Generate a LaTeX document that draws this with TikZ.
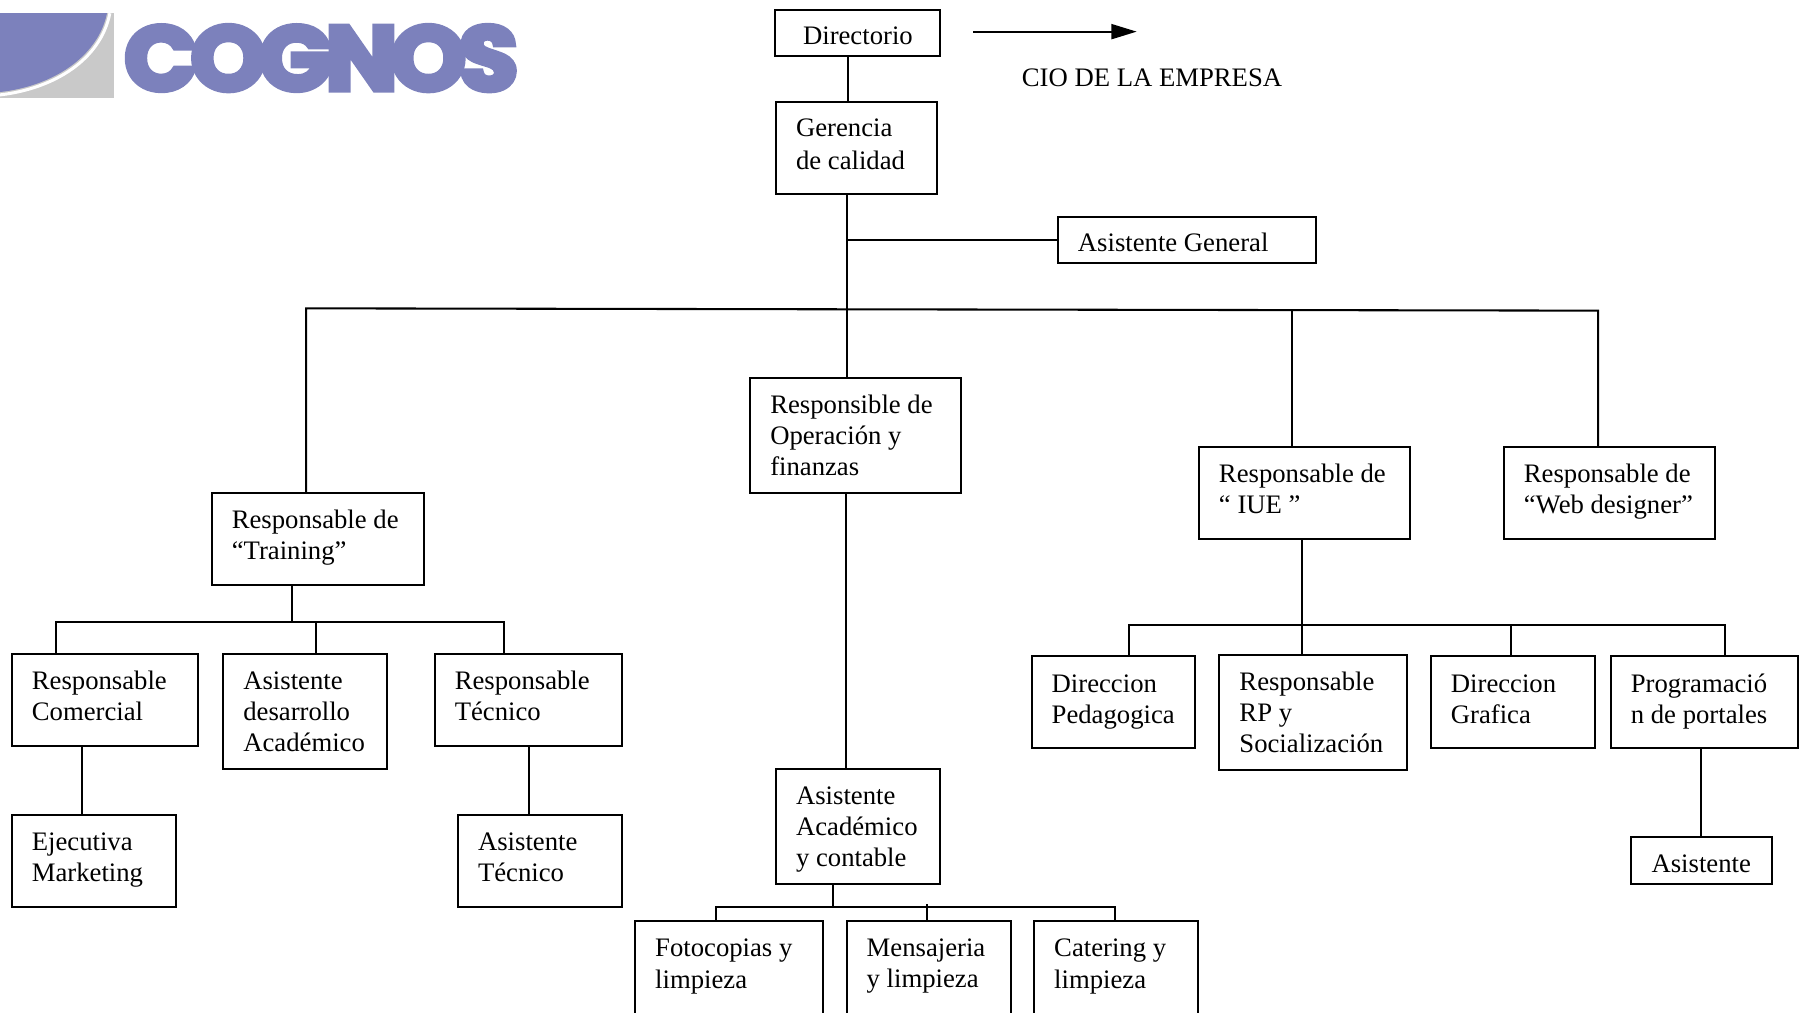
\documentclass[tikz,border=0pt]{standalone}
\usepackage{fontspec}
\usepackage{graphicx}
\setmainfont{Liberation Serif}
\newfontfamily\logofont[FakeBold=6,LetterSpace=-7]{Poppins Bold}
\usetikzlibrary{arrows.meta,calc}
\definecolor{logoblue}{HTML}{7C81BC}
\definecolor{logogray}{HTML}{C9C9C9}
\tikzset{
  wire/.style={line width=1.8pt,black},
  boxst/.style={draw=black,line width=1.8pt,anchor=north west,align=flush left,inner ysep=0pt,outer sep=0pt,
    font=\fontsize{23.2}{27}\selectfont},
  plain/.style={font=\fontsize{23.2}{27}\selectfont,inner sep=0pt,anchor=base west}
}
\def\bxo{30.5}
% \bx[left padding]{name}{x1}{y1}{x2}{y2}{text}
\newcommand{\bx}[6][17.5]{%
  \pgfmathsetmacro{\bxw}{#5-#3}\pgfmathsetmacro{\bxh}{#6-#4}%
  \pgfmathsetmacro{\bxt}{\bxw-2*#1}\pgfmathsetmacro{\bxd}{\bxh-\bxo}%
  \node[boxst,inner xsep=#1pt,text width=\bxt pt,text height=\bxo pt,text depth=\bxd pt] (#2) at (#3,#4) {\BXT};
}
\begin{document}
\begin{tikzpicture}[x=1pt,y=-1pt]
\useasboundingbox (0,0) rectangle (1568,880.4);
% logo
\fill[logogray] (0,11.5) rectangle (98.7,85);
\fill[logoblue] (0,11.5) -- (93,11.5) .. controls (85,50) and (45,75) .. (0,80) -- cycle;
\draw[white,line width=2.6pt] (95.5,11.5) .. controls (87.5,52) and (47,77) .. (0,82.5);
\node[inner sep=0pt,anchor=north west,text=logoblue] (logo) at (108,22) {\resizebox{342pt}{56pt}{\logofont COGNOS}};
% boxes
\def\BXT{Directorio}\bx[24]{dir}{674}{8.5}{817}{48.5}{}
\def\BXT{Gerencia\\[1pt]de calidad}\bx{ger}{674.4}{88.5}{814.4}{168.5}{}
\def\BXT{Asistente General}\bx{ag}{919.4}{188.5}{1144}{228.5}{}
\def\BXT{Responsable de\\“Training”}\bx{tr}{184}{428.5}{368.4}{508.5}{}
\def\BXT{Responsible de\\Operación y\\finanzas}\bx{op}{652}{328.5}{835.4}{428.5}{}
\def\BXT{Responsable de\\“ IUE ”}\bx{iue}{1042}{388.5}{1225.4}{468.5}{}
\def\BXT{Responsable de\\“Web designer”}\bx{web}{1307}{388.5}{1491}{468.5}{}
\def\BXT{Responsable\\Comercial}\bx{com}{10.2}{568.5}{172.4}{648.5}{}
\def\BXT{Asistente\\desarrollo\\Académico}\bx{des}{194}{568.5}{336.4}{668.5}{}
\def\BXT{Responsable\\Técnico}\bx{tec}{377.8}{568.5}{541}{648.5}{}
\def\BXT{Ejecutiva\\Marketing}\bx{eje}{10.2}{708.5}{153}{788.5}{}
\def\BXT{Asistente\\Técnico}\bx{ate}{398}{708.5}{541}{788.5}{}
\def\bxo{31.5}
\def\BXT{Direccion\\Pedagogica}\bx{ped}{896.6}{570.5}{1039}{650.5}{}
\def\BXT{Direccion\\Grafica}\bx{gra}{1243.6}{570.5}{1386}{650.5}{}
\def\BXT{Programació\\n de portales}\bx{pro}{1400}{570.5}{1563}{650.5}{}
\def\bxo{30.5}
\def\BXT{Responsable\\RP y\\Socialización}\bx{rp}{1059.8}{569.5}{1223}{669.5}{}
\def\BXT{Asistente}\bx{asi}{1418}{727.5}{1540}{768}{}
\def\BXT{Asistente\\Académico\\y contable}\bx{aac}{674.4}{668.5}{817}{768.5}{}
\def\BXT{Fotocopias y\\[1pt]limpieza}\bx{fot}{552}{800.5}{715}{890}{}
\def\BXT{Mensajeria\\y limpieza}\bx{men}{735.8}{800.5}{878.4}{890}{}
\def\BXT{Catering y\\[1pt]limpieza}\bx{cat}{898.8}{800.5}{1041.4}{890}{}
\node[plain] (cio) at (888,75) {CIO DE LA EMPRESA};
% junctions
\coordinate (a1) at (846,27.5);
\coordinate (a2) at (988,27.5);
\draw[wire,-{Triangle[length=22pt,width=13pt]}] (a1) -- (a2);
\coordinate (j0) at (737,0);
\draw[wire] (dir.south -| j0) -- (ger.north -| j0);
\coordinate (trunk) at (736,208.5);
\draw[wire] (ger.south -| trunk) -- (op.north -| trunk);
\draw[wire] (trunk) -- (ag.west |- trunk);
\coordinate (busL) at (266,268);
\coordinate (busR) at (1389,270);
\coordinate (busI) at (1123,269.4);
\draw[wire] (tr.north -| busL) -- (busL) -- (busR) -- (web.north -| busR);
\draw[wire] (busI) -- (iue.north -| busI);
% training group
\coordinate (t0) at (254,541);
\coordinate (t1) at (49,541);
\coordinate (t2) at (275,541);
\coordinate (t3) at (438,541);
\draw[wire] (tr.south -| t0) -- (t0);
\draw[wire] (com.north -| t1) -- (t1) -- (t3) -- (tec.north -| t3);
\draw[wire] (t2) -- (des.north -| t2);
\coordinate (c0) at (71,680);
\draw[wire] (com.south -| c0) -- (eje.north -| c0);
\coordinate (c1) at (460,680);
\draw[wire] (tec.south -| c1) -- (ate.north -| c1);
% operation group
\coordinate (o0) at (735,550);
\draw[wire] (op.south -| o0) -- (aac.north -| o0);
\coordinate (o1) at (724,788);
\coordinate (o2) at (622,788);
\coordinate (o3) at (806,786);
\coordinate (o4) at (969,788);
\draw[wire] (aac.south -| o1) -- (o1);
\draw[wire] (fot.north -| o2) -- (o2) -- (o4) -- (cat.north -| o4);
\draw[wire] (o3) -- (men.north -| o3);
% IUE group
\coordinate (i0) at (1132,543);
\coordinate (i1) at (981,543);
\coordinate (i2) at (1313,543);
\coordinate (i3) at (1499,543);
\draw[wire] (iue.south -| i0) -- (rp.north -| i0);
\draw[wire] (ped.north -| i1) -- (i1) -- (i3) -- (pro.north -| i3);
\draw[wire] (i2) -- (gra.north -| i2);
\coordinate (p0) at (1478.3,700);
\draw[wire] (pro.south -| p0) -- (asi.north -| p0);
\end{tikzpicture}
\end{document}
